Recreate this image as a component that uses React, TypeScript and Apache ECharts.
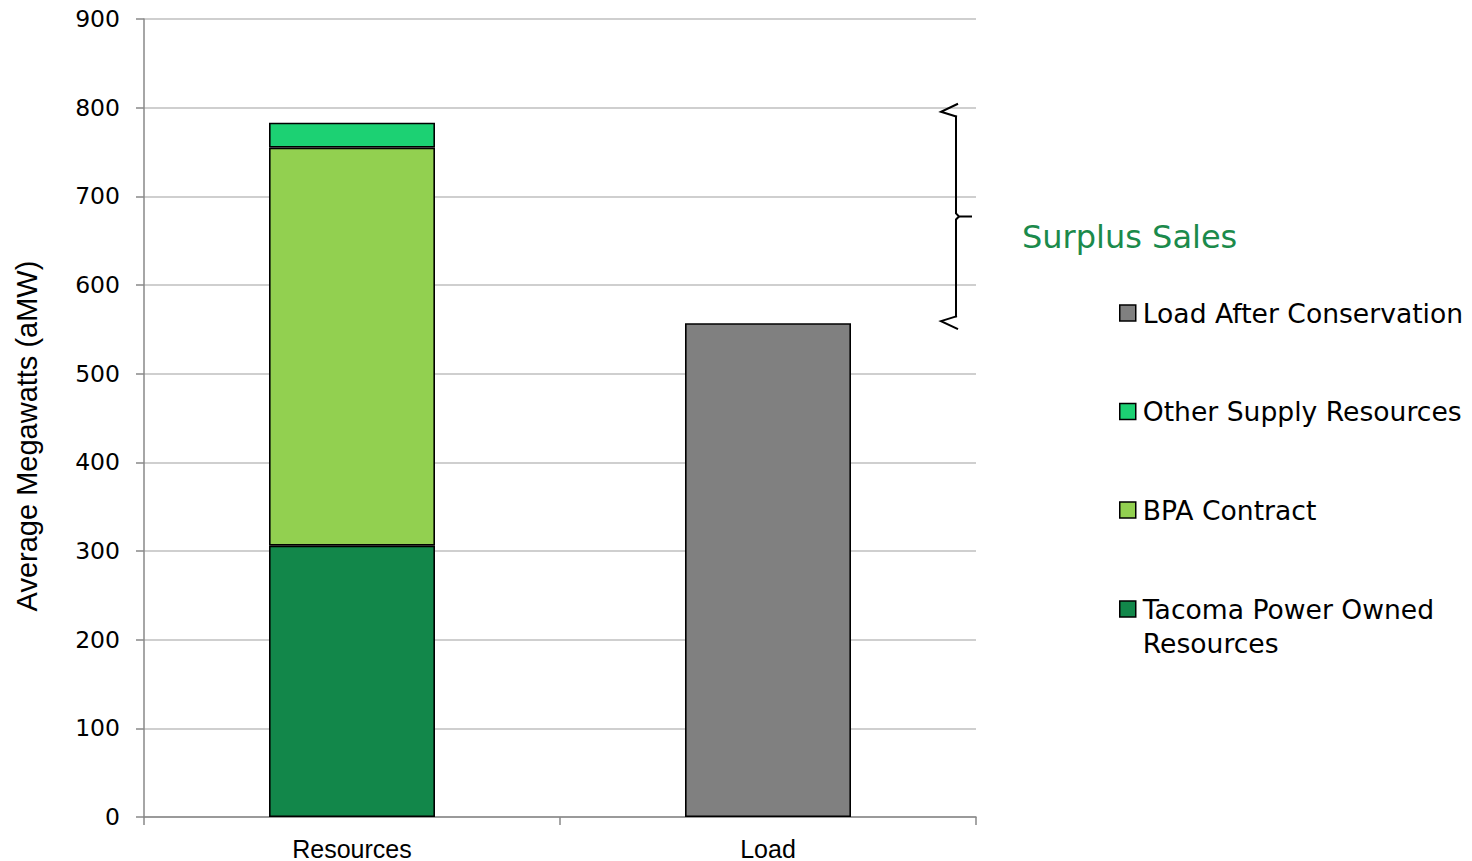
import React, { useEffect, useRef } from "react";
import * as echarts from "echarts";

const categories = ["Resources", "Load"];
const tacomaOwned = [306, "-"];
const bpaContract = [449, "-"];
const otherSupply = [28, "-"];
const loadAfterConservation = ["-", 557];
const yTicks = { min: 0, max: 900, interval: 100 };
const legendUpper = ["Load After Conservation", "Other Supply Resources", "BPA Contract"];
const legendLower = ["Tacoma Power Owned Resources"];
const annotationText = "Surplus Sales";

const COLORS = {
  tacoma: "#12874A",
  bpa: "#92D050",
  other: "#1CD173",
  load: "#808080",
};

const LEGEND_FONT = "DejaVu Sans, Verdana, sans-serif";

export default function App() {
  const ref = useRef<HTMLDivElement>(null);
  useEffect(() => {
    if (!ref.current) return;
    const chart = echarts.init(ref.current, undefined, { renderer: "svg" });
    const barStyle = (c: string) => ({ color: c, borderColor: "#000", borderWidth: 1.6 });
    const legendBase = {
      orient: "vertical",
      left: 1119,
      padding: 0,
      itemWidth: 16,
      itemHeight: 16,
      itemGap: 64.5,
      icon: "rect",
      selectedMode: false,
      itemStyle: { borderColor: "#000", borderWidth: 1.5 },
    };
    const legendText = { fontFamily: LEGEND_FONT, fontSize: 26.6, color: "#000", lineHeight: 34, padding: [0, 0, 0, 2] };
    const option: any = {
      animation: false,
      grid: { left: 144, right: 496, top: 19, bottom: 44 },
      legend: [
        {
          ...legendBase,
          data: legendUpper,
          top: 296,
          textStyle: legendText,
        },
        {
          ...legendBase,
          data: legendLower,
          top: 558,
          formatter: () => "\nTacoma Power Owned\nResources",
          textStyle: legendText,
        },
      ],
      xAxis: {
        type: "category",
        data: categories,
        axisLine: { lineStyle: { color: "#898989", width: 1.5 } },
        axisTick: { show: true, length: 8, lineStyle: { color: "#898989", width: 1.5 } },
        axisLabel: {
          color: "#000",
          fontSize: 25,
          fontFamily: "Liberation Sans Narrow, Arial Narrow, Liberation Sans, sans-serif",
          margin: 19,
        },
      },
      yAxis: {
        type: "value",
        min: yTicks.min,
        max: yTicks.max,
        interval: yTicks.interval,
        name: "Average Megawatts (aMW)",
        nameLocation: "middle",
        nameGap: 103,
        nameTextStyle: {
          color: "#000",
          fontSize: 29,
          fontFamily: "Liberation Sans Narrow, Arial Narrow, Liberation Sans, sans-serif",
          padding: [0, 36, 0, 0],
        },
        axisLine: { show: true, lineStyle: { color: "#898989", width: 1.5 } },
        axisTick: { show: true, length: 8, lineStyle: { color: "#898989", width: 1.5 } },
        splitLine: { lineStyle: { color: "#BFBFBF", width: 1.5 } },
        axisLabel: {
          color: "#000",
          fontSize: 23.5,
          fontFamily: "DejaVu Sans, Verdana, sans-serif",
          margin: 24,
        },
      },
      series: [
        { name: "Tacoma Power Owned Resources", type: "bar", stack: "a", data: tacomaOwned, barWidth: 166, itemStyle: barStyle(COLORS.tacoma) },
        { name: "BPA Contract", type: "bar", stack: "a", data: bpaContract, barWidth: 166, itemStyle: barStyle(COLORS.bpa) },
        { name: "Other Supply Resources", type: "bar", stack: "a", data: otherSupply, barWidth: 166, itemStyle: barStyle(COLORS.other) },
        { name: "Load After Conservation", type: "bar", stack: "a", data: loadAfterConservation, barWidth: 166, itemStyle: barStyle(COLORS.load) },
      ],
    };
    chart.setOption(option);

    const total = (tacomaOwned[0] as number) + (bpaContract[0] as number) + (otherSupply[0] as number);
    const load = loadAfterConservation[1] as number;
    const yTop = chart.convertToPixel({ yAxisIndex: 0 }, total) - 11;
    const yBot = chart.convertToPixel({ yAxisIndex: 0 }, load) - 2;
    const yMid = (yTop + yBot) / 2;
    const bx = 956;
    const ls = { stroke: "#000", lineWidth: 2, fill: null };
    chart.setOption({
      graphic: [
        { type: "polyline", shape: { points: [[bx, yTop + 4], [bx, yMid - 3], [bx + 3, yMid], [bx + 16, yMid]] }, style: ls },
        { type: "polyline", shape: { points: [[bx + 3, yMid], [bx, yMid + 3], [bx, yBot - 4]] }, style: ls },
        { type: "polyline", shape: { points: [[bx + 2, yTop - 8], [bx - 15, yTop], [bx + 1, yTop + 5]] }, style: ls },
        { type: "polyline", shape: { points: [[bx + 1, yBot - 5], [bx - 15, yBot], [bx + 2, yBot + 8]] }, style: ls },
        {
          type: "text",
          x: 1022,
          y: 237,
          style: {
            text: annotationText,
            fill: "#1B8A4B",
            fontSize: 32,
            fontFamily: LEGEND_FONT,
            verticalAlign: "middle",
          },
        },
      ],
    });
    return () => chart.dispose();
  }, []);
  return <div ref={ref} style={{ width: 1472, height: 861, position: "absolute", left: 0, top: 0 }} />;
}
